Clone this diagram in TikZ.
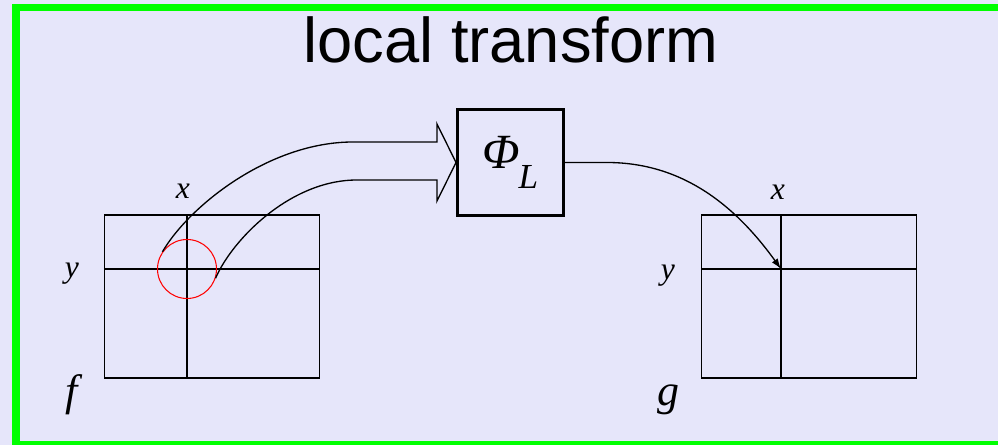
\documentclass[tikz,border=0pt]{standalone}
\usepackage{fontspec}
\setmainfont{Liberation Serif}[ItalicFont={Liberation Serif Italic}]
\newfontfamily\titlefont{Liberation Sans}
\usetikzlibrary{arrows.meta}
\definecolor{slidebg}{RGB}{230,230,250}
\definecolor{slidegreen}{RGB}{0,255,0}
\begin{document}
\begin{tikzpicture}[x=0.02cm, y=-0.02cm]
    \tikzset{grid/.style={draw, line width=0.6pt, minimum width=4.3cm, minimum height=3.26cm, inner sep=0pt},
      gline/.style={line width=0.6pt},
      lbl/.style={font=\fontsize{18}{18}\selectfont\itshape, inner sep=0pt},
      fnlbl/.style={font=\fontsize{25}{25}\selectfont\itshape, inner sep=0pt},
      link/.style={line width=0.75pt}}
    % slide background and green frame
    \clip (0,0) rectangle (998,445);
    \fill[slidebg] (0,0) rectangle (998,445);
    \draw[slidegreen, line width=4.25pt] (16,7.5) rectangle (1012,444.5);
    \node[anchor=base, font=\titlefont\fontsize{36}{36}\selectfont] (title) at (511,63) {local transform};
    % input image f
    \node[grid] (fgrid) at (212,296.5) {};
    \coordinate (fxy) at (187,269);
    \draw[gline] (fgrid.north -| fxy) -- (fgrid.south -| fxy);
    \draw[gline] (fgrid.west |- fxy) -- (fgrid.east |- fxy);
    \node[lbl] (fx) at (183,191) {x};
    \node[lbl] (fy) at (72,274) {y};
    \node[fnlbl] (fname) at (72,395) {f};
    \node[draw=red, circle, line width=0.6pt, minimum size=1.18cm, inner sep=0pt] (spot) at (fxy) {};
    % output image g
    \node[grid] (ggrid) at (809,296.5) {};
    \coordinate (gxy) at (781,269);
    \draw[gline] (ggrid.north -| gxy) -- (ggrid.south -| gxy);
    \draw[gline] (ggrid.west |- gxy) -- (ggrid.east |- gxy);
    \node[lbl] (gx) at (778,192) {x};
    \node[lbl] (gy) at (668,276) {y};
    \node[fnlbl] (gname) at (668,400) {g};
    % operator box
    \node[draw, line width=1.7pt, minimum size=2.12cm, inner sep=0pt] (phi) at (510.5,162.5)
      {\fontsize{28}{28}\selectfont\itshape Φ\kern-1pt\raisebox{-0.42em}{\fontsize{20}{20}\selectfont L}};
    % wide arrow from the neighbourhood into the box
    \draw[link, line join=miter] (spot.145) .. controls (190,205) and (270,142) .. (353,142)
      -- (437,142) -- (437,124) -- (phi.west) -- (437,201) -- (437,180) -- (357,180)
      .. controls (290,180) and (232,240) .. (spot.-18);
    % result written to (x,y) of g
    \draw[link, -{Latex[length=6pt, width=4pt]}] (phi.east) -- ++(42,0)
      .. controls +(75,0) and (735,205) .. (gxy);
  \end{tikzpicture}
\end{document}
